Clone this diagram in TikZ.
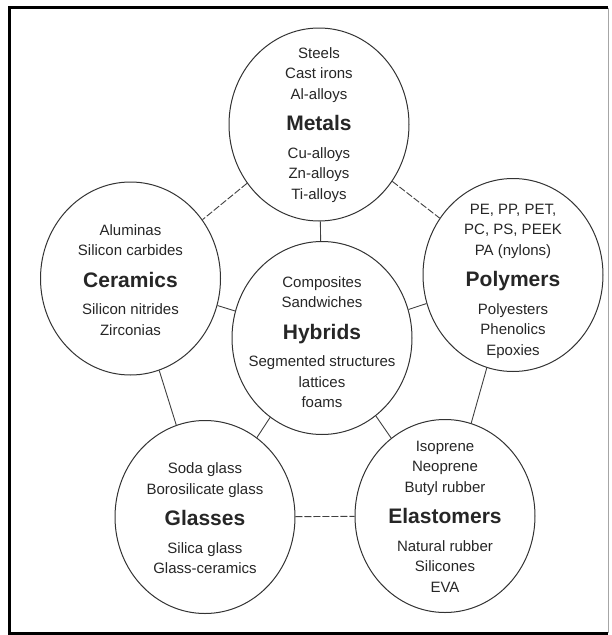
\documentclass[tikz,border=0pt]{standalone}
\usepackage{fontspec}
\setmainfont{Liberation Sans}
\usetikzlibrary{shapes.geometric}
\tikzset{
 cls/.style={ellipse, draw=black!80, line width=1pt, minimum width=180pt, minimum height=193pt, inner sep=0pt},
 txt/.style={align=center, inner sep=0pt, font=\fontsize{15}{20.5}\selectfont, text=black!85},
 link/.style={draw=black!75, line width=0.9pt},
 dlink/.style={link, dash pattern=on 7pt off 2pt}
}
\newcommand\grpttl[1]{\\[11pt]{\fontsize{21}{21}\selectfont\bfseries #1}\\[7pt]}
\begin{document}
\begin{tikzpicture}[x=1pt,y=-1pt]
\useasboundingbox (0,0) rectangle (612,635);
% frame
\draw[black!35, line width=0.8pt] (608,7.5) -- (608,633);
\draw[line width=3.5pt] (608,7.5) -- (9.5,7.5) -- (9.5,633.5) -- (608,633.5);
% classes
\node[cls] (metals) at (319,124.5) {};
\node[cls] (ceramics) at (130.5,278.5) {};
\node[cls] (polymers) at (513,275) {};
\node[cls] (hybrids) at (322,338) {};
\node[cls] (glasses) at (205,517) {};
\node[cls] (elastomers) at (445,516) {};
% texts
\node[txt] (metalsT) at (319,125) {Steels\\Cast irons\\Al-alloys\grpttl{Metals}Cu-alloys\\Zn-alloys\\Ti-alloys};
\node[txt] (ceramicsT) at (130.5,280) {Aluminas\\Silicon carbides\grpttl{Ceramics}Silicon nitrides\\Zirconias};
\node[txt] (polymersT) at (513,281) {PE, PP, PET,\\PC, PS, PEEK\\PA (nylons)\grpttl{Polymers}Polyesters\\Phenolics\\Epoxies};
\node[txt] (hybridsT) at (322,342) {Composites\\Sandwiches\grpttl{Hybrids}Segmented structures\\lattices\\foams};
\node[txt] (glassesT) at (205,518.5) {Soda glass\\Borosilicate glass\grpttl{Glasses}Silica glass\\Glass-ceramics};
\node[txt] (elastomersT) at (445,516.5) {Isoprene\\Neoprene\\Butyl rubber\grpttl{Elastomers}Natural rubber\\Silicones\\EVA};
% connectors
\draw[dlink] (metals) -- (ceramics);
\draw[dlink] (metals) -- (polymers);
\draw[link] (metals) -- (hybrids);
\draw[link] (ceramics) -- (hybrids);
\draw[link] (polymers) -- (hybrids);
\draw[link] (ceramics) -- (glasses);
\draw[link] (polymers) -- (elastomers);
\draw[link] (hybrids) -- (glasses);
\draw[link] (hybrids) -- (elastomers);
\draw[dlink] (glasses) -- (elastomers);
\end{tikzpicture}
\end{document}
